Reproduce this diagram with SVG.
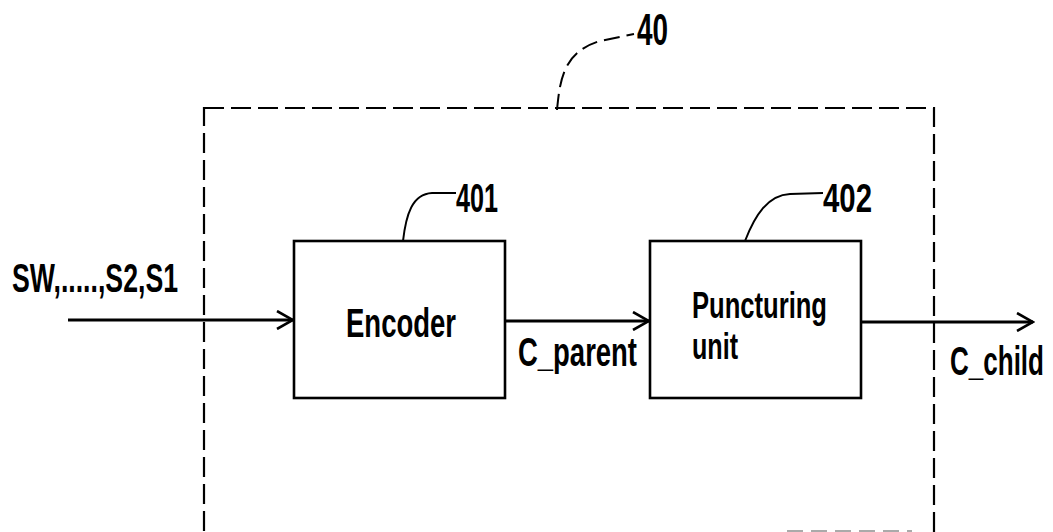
<svg xmlns="http://www.w3.org/2000/svg" width="1053" height="532" viewBox="0 0 1053 532">
  <defs>
    <style>
      .box { fill: none; stroke: #000; stroke-width: 2.6; }
      .frame { fill: none; stroke: #000; stroke-width: 2.2; stroke-dasharray: 20 7; }
      .wire { fill: none; stroke: #000; stroke-width: 2.8; }
      .lead { fill: none; stroke: #000; stroke-width: 2; }
      .lbl { font-family: "Liberation Sans", Arial, sans-serif; font-size: 41px; font-weight: bold; fill: #000; }
      .lbl2 { font-family: "Liberation Sans", Arial, sans-serif; font-size: 36px; font-weight: bold; fill: #000; }
      .ref { font-family: "Liberation Sans", Arial, sans-serif; font-size: 40px; font-weight: bold; fill: #000; }
    </style>
    <marker id="arrow" viewBox="0 0 20 20" refX="18" refY="10" markerWidth="20" markerHeight="20" markerUnits="userSpaceOnUse" orient="auto">
      <path d="M2,1 L18,10 L2,19" fill="none" stroke="#000" stroke-width="2.6"/>
    </marker>
  </defs>

  <!-- dashed enclosure 40 -->
  <g id="block40">
    <rect class="frame" x="204" y="108" width="730" height="440"/>
    <path d="M787,531 L912,531" fill="none" stroke="#aaa" stroke-width="2" stroke-dasharray="16 8"/>
    <path class="lead" d="M557,110 C560,80 563,52 600,41 L634,34" stroke-dasharray="16 7"/>
    <text class="ref" x="637" y="45" style="font-size:45px" textLength="31" lengthAdjust="spacingAndGlyphs">40</text>
  </g>

  <!-- encoder 401 -->
  <g id="encoder">
    <rect class="box" x="294" y="241" width="211" height="157"/>
    <text class="lbl" x="346" y="337" textLength="110" lengthAdjust="spacingAndGlyphs">Encoder</text>
    <path class="lead" d="M403,241 C406,215 412,194 432,193 L456,193"/>
    <text class="ref" x="456" y="212" textLength="42" lengthAdjust="spacingAndGlyphs">401</text>
  </g>

  <!-- puncturing unit 402 -->
  <g id="puncturer">
    <rect class="box" x="650" y="241" width="211" height="157"/>
    <text class="lbl2" x="692" y="318" textLength="135" lengthAdjust="spacingAndGlyphs">Puncturing</text>
    <text class="lbl2" x="692" y="359" textLength="46" lengthAdjust="spacingAndGlyphs">unit</text>
    <path class="lead" d="M745,241 C755,215 768,195 790,194 L823,193"/>
    <text class="ref" x="823" y="212" textLength="49" lengthAdjust="spacingAndGlyphs">402</text>
  </g>

  <!-- signal connectors -->
  <g id="connectors">
    <line class="wire" x1="68" y1="320" x2="293" y2="320" marker-end="url(#arrow)"/>
    <line class="wire" x1="505" y1="321" x2="649" y2="321" marker-end="url(#arrow)"/>
    <line class="wire" x1="861" y1="322" x2="1033" y2="322" marker-end="url(#arrow)"/>
  </g>

  <!-- signal labels -->
  <g id="labels">
    <text class="lbl" x="12" y="292" textLength="166" lengthAdjust="spacingAndGlyphs">SW,.....,S2,S1</text>
    <text class="lbl" x="518" y="366" textLength="119" lengthAdjust="spacingAndGlyphs">C_parent</text>
    <text class="lbl" transform="translate(950,375) scale(0.635,1)" x="0" y="0">C_child</text>
  </g>
</svg>
